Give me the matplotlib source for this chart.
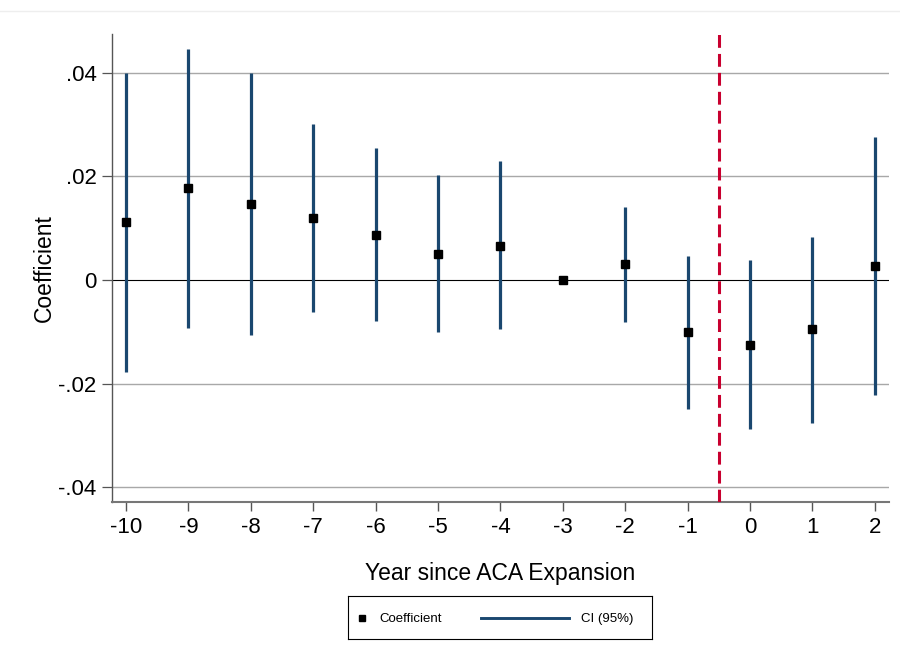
import numpy as np
import matplotlib
matplotlib.use("Agg")
import matplotlib.pyplot as plt
from matplotlib.lines import Line2D

plt.rcParams['font.family'] = ['Liberation Sans', 'DejaVu Sans']

# event-study estimates, year -3 is the omitted reference year
years = [-10, -9, -8, -7, -6, -5, -4, -3, -2, -1, 0, 1, 2]
coef = [0.0111, 0.0177, 0.0147, 0.0120, 0.0087, 0.0051, 0.0066, 0.0,
        0.0030, -0.0100, -0.0125, -0.0095, 0.0026]
ci_lo = [-0.0177, -0.0093, -0.0107, -0.0062, -0.0080, -0.0101, -0.0095, 0.0,
         -0.0082, -0.0248, -0.0288, -0.0276, -0.0222]
ci_hi = [0.0400, 0.0446, 0.0400, 0.0301, 0.0255, 0.0202, 0.0229, 0.0,
         0.0141, 0.0046, 0.0039, 0.0082, 0.0276]
ytick_vals = [-0.04, -0.02, 0, 0.02, 0.04]
ytick_labels = ['-.04', '-.02', '0', '.02', '.04']
navy = '#1a476f'

fig = plt.figure(figsize=(9, 6.62), dpi=100)
ax = fig.add_axes([0.124, 0.2412, 0.864, 0.7074])

for y in ytick_vals:
    if y == 0:
        ax.axhline(y, color='black', lw=0.8, zorder=1)
    else:
        ax.axhline(y, color='#a8a8a8', lw=1.0, zorder=1)

# CI bars (skip the reference year, which has no interval)
for x, lo, hi in zip(years, ci_lo, ci_hi):
    if hi > lo:
        ax.vlines(x, lo, hi, color=navy, lw=2.3, zorder=2)
ax.plot(years, coef, 's', color='black', ms=5.8, zorder=3)

ax.axvline(-0.5, color='#c8002f', lw=2.2, dashes=(4.2, 2.0), zorder=4)

ax.set_xlim(-10.23, 2.23)
ax.set_ylim(-0.0429, 0.04745)
ax.set_xticks(years)
ax.set_xticklabels([str(y) for y in years])
ax.set_yticks(ytick_vals)
ax.set_yticklabels(ytick_labels)

for side in ['top', 'right']:
    ax.spines[side].set_visible(False)
ax.spines['left'].set_color('#555555')
ax.spines['left'].set_linewidth(1.0)
ax.spines['bottom'].set_color('#777777')
ax.spines['bottom'].set_linewidth(1.5)
ax.tick_params(axis='y', length=7.2, width=0.9, color='#555555', pad=3.5, labelsize=16)
ax.tick_params(axis='x', length=6.3, width=1.0, color='#555555', pad=4, labelsize=16)

ax.set_ylabel('Coefficient', fontsize=16.5, va='center')
ax.yaxis.set_label_coords(-0.086, 0.5)
ax.set_xlabel('Year since ACA Expansion', fontsize=16.5, va='center')
ax.xaxis.set_label_coords(0.5, -0.151)

# legend drawn in its own small box below the plot
lax = fig.add_axes([348 / 900, 1 - 639 / 662, 304 / 900, 43 / 662])
lax.set_xlim(0, 304)
lax.set_ylim(0, 43)
lax.set_xticks([])
lax.set_yticks([])
for s in lax.spines.values():
    s.set_color('black')
    s.set_linewidth(0.8)
lax.plot([13.7], [21.5], 's', color='black', ms=5)
lax.text(31, 21.5, 'Coefficient', fontsize=9.5, va='center_baseline', ha='left')
lax.plot([132.7, 221], [21.5, 21.5], color=navy, lw=2.1)
lax.text(233, 21.5, 'CI (95%)', fontsize=9.5, va='center_baseline', ha='left')

# faint border line at the top of the picture
fig.add_artist(Line2D([0, 1], [1 - 10.5 / 662, 1 - 10.5 / 662], color='#eeeeee', lw=1))

fig.savefig('out.png', dpi=100)
